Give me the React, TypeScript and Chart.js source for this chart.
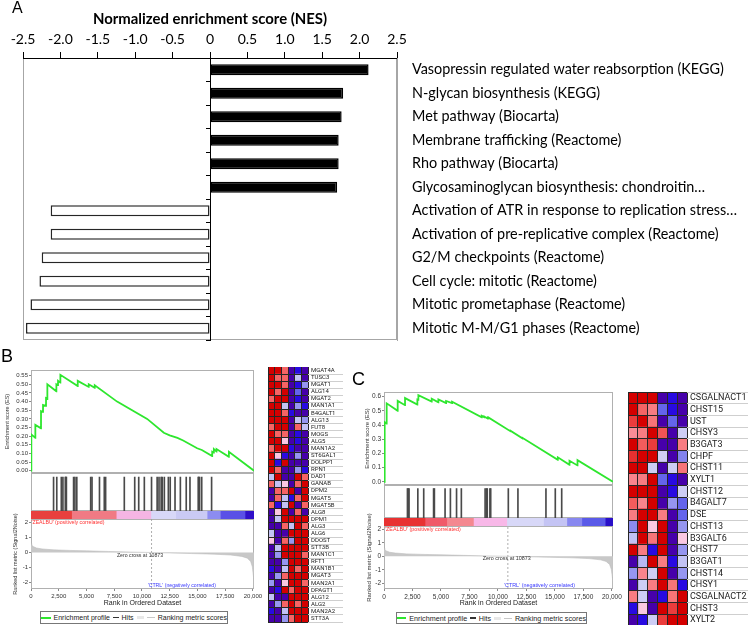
import React, { useEffect, useRef } from "react";
import { Chart, registerables } from "chart.js";

// ---------------- Panel A data ----------------
const pathways = [
  "Vasopressin regulated water reabsorption (KEGG)",
  "N-glycan biosynthesis (KEGG)",
  "Met pathway (Biocarta)",
  "Membrane trafficking (Reactome)",
  "Rho pathway (Biocarta)",
  "Glycosaminoglycan biosynthesis: chondroitin…",
  "Activation of ATR in response to replication stress…",
  "Activation of pre-replicative complex (Reactome)",
  "G2/M checkpoints (Reactome)",
  "Cell cycle: mitotic (Reactome)",
  "Mitotic prometaphase (Reactome)",
  "Mitotic M-M/G1 phases (Reactome)",
];
const nes = [2.12, 1.78, 1.76, 1.72, 1.72, 1.7, -2.13, -2.13, -2.25, -2.28, -2.4, -2.46];

// ---------------- GSEA data ----------------
const RANK_MAX = 20100;
const ZERO_CROSS = 10873;
const rankTicks = [0, 2500, 5000, 7500, 10000, 12500, 15000, 17500, 20000];
const metricTicks = [2, 1, 0, -1, -2];
const esTicksB = [0, 0.05, 0.1, 0.15, 0.2, 0.25, 0.3, 0.35, 0.4, 0.45, 0.5, 0.55];
const esTicksC = [0, 0.1, 0.2, 0.3, 0.4, 0.5, 0.6];

const esB: number[][] = [
  [0, 0], [30, 0], [31, 0.21], [391, 0.19], [392, 0.265], [902, 0.245], [903, 0.345],
  [1083, 0.34], [1084, 0.38], [1353, 0.375], [1354, 0.42], [1474, 0.415], [1475, 0.5],
  [2286, 0.46], [2287, 0.5], [2436, 0.495], [2437, 0.52], [2647, 0.51], [2648, 0.555],
  [4211, 0.49], [4212, 0.52], [5203, 0.485], [5204, 0.5], [5744, 0.48], [5745, 0.495],
  [7760, 0.4], [10470, 0.3], [11970, 0.22], [12500, 0.205], [13200, 0.19], [13714, 0.175],
  [14977, 0.13], [15398, 0.12], [16331, 0.085], [16332, 0.11], [16481, 0.105], [16482, 0.125],
  [16722, 0.11], [16723, 0.125], [17835, 0.08], [17836, 0.11], [20100, 0],
];
const esC: number[][] = [
  [0, 0], [59, 0], [60, 0.42], [234, 0.41], [235, 0.553], [1200, 0.5], [1201, 0.57],
  [1845, 0.54], [1846, 0.59], [2928, 0.545], [2929, 0.58], [3016, 0.578], [3017, 0.61],
  [4187, 0.565], [4188, 0.585], [4773, 0.56], [4774, 0.58], [5447, 0.555], [5448, 0.57],
  [5974, 0.555], [5975, 0.565], [8580, 0.455], [8581, 0.465], [8814, 0.455], [8815, 0.46],
  [9107, 0.445], [9108, 0.452], [9195, 0.448], [9196, 0.452], [11127, 0.355], [11128, 0.358],
  [12182, 0.305], [12183, 0.308], [15256, 0.155], [15257, 0.172], [16281, 0.12], [16282, 0.148],
  [16984, 0.115], [16985, 0.152], [20087, 0],
];
const hitsB = [30, 391, 902, 1083, 1353, 1413, 1474, 2286, 2436, 2647, 4211, 4361, 5203, 5744, 5895,
  8000, 9173, 9624, 10256, 11068, 11699, 11910, 12150, 12271, 12511, 12962, 13173, 13714, 14316,
  14977, 15398, 16331, 16391, 16481, 16722, 17835];
const hitsC = [60, 146, 235, 1200, 1845, 2928, 3016, 4187, 4773, 5447, 5974, 8580, 8726, 8814, 9107,
  9195, 11127, 12182, 15256, 16281, 16984];
const rankMetric: number[][] = [
  [0, 0.6], [60, 0.5], [200, 0.4], [500, 0.3], [1000, 0.24], [2000, 0.18], [3500, 0.14],
  [5000, 0.11], [7000, 0.07], [9000, 0.03], [10873, 0], [12500, -0.03], [14500, -0.07],
  [16500, -0.11], [18000, -0.17], [19000, -0.26], [19500, -0.38], [19800, -0.6],
  [19950, -0.95], [20050, -1.6], [20090, -2.35],
];
const barEdgesB = [0, 3660, 7680, 10800, 13040, 15870, 17060, 19290, 20100];
const barColorsB = ["#e8403e", "#f07a84", "#f5b5e3", "#d8d8f8", "#cacaf4", "#8c8cf0", "#5a50e6", "#3010c8"];
const barEdgesC = [0, 3600, 5505, 7850, 10775, 13996, 16047, 17364, 19414, 20100];
const barColorsC = ["#e83232", "#f05a6a", "#f48890", "#f8b8e8", "#d8d8f8", "#c4c4f4", "#8888f0", "#5a5ae8", "#2a10c8"];

// ---------------- Heatmap data ----------------
const genesB = ["MGAT4A", "TUSC3", "MGAT1", "ALG14", "MGAT2", "MAN1A1", "B4GALT1", "ALG13", "FUT8",
  "MOGS", "ALG5", "MAN1A2", "ST6GAL1", "DOLPP1", "RPN1", "DAD1", "GANAB", "DPM2", "MGAT5", "MGAT5B",
  "ALG8", "DPM1", "ALG3", "ALG6", "DDOST", "STT3B", "MAN1C1", "RFT1", "MAN1B1", "MGAT3", "MAN2A1",
  "DPAGT1", "ALG12", "ALG2", "MAN2A2", "STT3A"];
const heatB: number[][] = [
  [3, 3, 1.5, -3, -2.5, -3], [3, 1.5, 1.5, -3, -0.6, -3], [3, 3, 1.5, -3, -2.5, -1],
  [3, 1.5, 3, -3, -1.5, -3], [1.5, 3, 3, -3, -2.5, -3], [3, 3, -0.6, -3, -1, -2.5],
  [3, 3, 1.5, -2.5, -3, -3], [3, 3, 3, -3, -0.6, -1], [1.5, 3, 3, -3, 1.5, -0.6],
  [3, 1.5, 1.5, -3, -2.5, -3], [3, 3, 0.5, -3, -2.5, -3], [1.5, 3, 3, -2.5, -3, -3],
  [3, 0.5, -2.5, -3, -1, -3], [3, -2.5, 3, -3, -3, -3], [3, 1.5, -3, -3, -1, -2.5],
  [-0.6, 3, -3, -3, 3, 1.5], [1.5, -0.6, 0.5, -3, 1.5, 3], [-3, 1.5, 1.5, 3, -3, 3],
  [-3, 1.5, -0.6, -2.5, 1.5, 3], [1.5, -2.5, -0.6, 3, -3, 1.5], [-3, 0.5, 3, -3, 1.5, -3],
  [-3, -0.6, 3, 3, 3, 3], [-3, -3, 1.5, -0.6, 3, 1.5], [-0.6, -3, -3, 3, 3, 3],
  [0.5, -3, 1.5, -1, 3, 3], [-3, -0.6, 3, 3, 3, 3], [-3, -1, 3, 3, 3, 1.5],
  [-3, -3, -1, 3, 3, 3], [-2.5, -3, -0.6, 3, 1.5, 3], [-3, -1, 1.5, 3, 3, 3],
  [-1, -3, 0.5, 3, 3, 1.5], [-3, -2.5, 3, 1.5, 3, 3], [-0.6, -3, -3, 3, 3, 3],
  [-3, -1, 1.5, 3, 1.5, 3], [-2.5, -3, -0.6, 3, 3, 3], [-3, -3, -1, 1.5, 3, 3],
];
const genesC = ["CSGALNACT1", "CHST15", "UST", "CHSY3", "B3GAT3", "CHPF", "CHST11", "XYLT1", "CHST12",
  "B4GALT7", "DSE", "CHST13", "B3GALT6", "CHST7", "B3GAT1", "CHST14", "CHSY1", "CSGALNACT2", "CHST3", "XYLT2"];
const heatC: number[][] = [
  [3, 3, 3, -3, -2.5, -3], [3, 1.5, 1.2, -1.5, -2.5, -3], [2, 3, 1.3, -3, -1.5, -3],
  [1, 1.2, 3, 1.7, -3, -0.5], [3, 1.6, 2, -3, -3, 1.2], [2.2, 3, 3, -0.4, -3, -1.2],
  [3, 3, -0.5, -3, -0.5, 1.3], [1.1, 1.2, 3, -1.5, -2.5, -3], [3, 3, 3, -3, -2.5, -0.5],
  [1.6, 1.1, 3, -3, -1, -1.5], [1.2, 3, 3, 1.2, -3, -1.5], [-1.1, 3, 0.5, 3, -3, -1],
  [-0.6, 3, 1.3, 3, -3, 0.5], [3, 1.2, -2.5, 3, -3, -1], [-3, -0.7, 3, 1.2, -2.5, -0.6],
  [-1, 1.1, -0.5, 3, -3, -1], [-3, -0.5, 1.2, 3, 1.3, -2.5], [1.2, -0.5, -3, -2.5, 1.3, 3],
  [-2.5, 0.5, -3, 3, 2, 3], [-3, -2.5, -0.5, 2, 3, 3],
];
const heatStops = [-3, -2.5, -1.5, -1, -0.5, 0.5, 1, 1.5, 2, 3];
const heatRGB = [[70, 0, 170], [40, 10, 225], [100, 100, 235], [150, 150, 240], [205, 205, 245],
  [250, 200, 225], [250, 140, 150], [245, 100, 100], [235, 60, 60], [212, 0, 0]];

// ---------------- styling ----------------
const FONT_A = "Lato, 'Open Sans', sans-serif";
const FONT_G = "'Liberation Sans', Arial, sans-serif";
const FONT_H = "Roboto, 'Liberation Sans', sans-serif";
const GREEN = "#2ee62e";
const FRAME = "#b0b0b0";

function heatColor(v: number) {
  const x = Math.max(heatStops[0], Math.min(heatStops[heatStops.length - 1], v));
  let i = 0;
  while (i < heatStops.length - 2 && x > heatStops[i + 1]) i++;
  const t = (x - heatStops[i]) / (heatStops[i + 1] - heatStops[i]);
  const a = heatRGB[i], b = heatRGB[i + 1];
  const c = a.map((av, k) => Math.round(av + (b[k] - av) * t));
  return `rgb(${c[0]},${c[1]},${c[2]})`;
}

const framePlugin = {
  id: "frame",
  beforeDraw(chart: any, _a: any, opts: any) {
    if (!opts || (!opts.color && !opts.fill)) return;
    const { ctx, chartArea: a } = chart;
    ctx.save();
    if (opts.fill) {
      ctx.fillStyle = opts.fill;
      ctx.fillRect(a.left, a.top, a.right - a.left, a.bottom - a.top);
    }
    if (opts.color) {
      ctx.strokeStyle = opts.color;
      ctx.lineWidth = 1;
      ctx.strokeRect(Math.round(a.left) + 0.5, Math.round(a.top) + 0.5,
        Math.round(a.right - a.left) - 1, Math.round(a.bottom - a.top) - 1);
    }
    ctx.restore();
  },
};
Chart.register(...registerables, framePlugin);

const toXY = (arr: number[][]) => arr.map(([x, y]) => ({ x, y }));
const noPlug = { legend: { display: false }, tooltip: { enabled: false } };
const zeroPad = (s: any) => { s.paddingTop = 0; s.paddingBottom = 0; s.paddingLeft = 0; s.paddingRight = 0; };
const fitW = (w: number) => (s: any) => { s.width = w; zeroPad(s); };
const fitH = (h: number) => (s: any) => { s.height = h; zeroPad(s); };

// ---------------- Panel A ----------------
function makeA(): any {
  return {
    type: "bar",
    data: {
      labels: pathways,
      datasets: [{
        data: nes,
        xAxisID: "x",
        yAxisID: "y",
        backgroundColor: nes.map((v) => (v > 0 ? "#000" : "#fff")),
        borderColor: nes.map((v) => (v > 0 ? "#000" : "#262626")),
        borderWidth: 1.5,
        borderSkipped: false,
        barPercentage: 0.47,
        categoryPercentage: 1,
      }],
    },
    options: {
      indexAxis: "y",
      animation: false,
      responsive: false,
      events: [],
      layout: { padding: { left: 23, top: 6, right: 0, bottom: 5 } },
      plugins: { ...noPlug, frame: { color: "#a6a6a6" } },
      scales: {
        x: {
          type: "linear", position: "top", min: -2.5, max: 2.5,
          ticks: { stepSize: 0.5, font: { family: FONT_A, size: 14 }, color: "#000", padding: 4 },
          grid: { drawOnChartArea: false, drawTicks: true, tickLength: 6, color: "#000" },
          border: { color: "#000" },
          title: {
            display: true, text: "Normalized enrichment score (NES)",
            font: { family: FONT_A, size: 14.9, weight: "bold" }, color: "#000",
            padding: { top: 4, bottom: 0 },
          },
          afterFit: fitH(52),
        },
        y: {
          type: "category", position: "right", offset: true,
          grid: { display: false, drawTicks: false },
          border: { color: "#a6a6a6" },
          ticks: { font: { family: FONT_A, size: 14.4 }, color: "#000", padding: 15, crossAlign: "near", autoSkip: false },
          afterFit: fitW(353),
        },
        yz: {
          type: "category", position: { x: 0 }, offset: true,
          ticks: { display: false },
          grid: { offset: true, drawOnChartArea: false, tickLength: 4, color: "#000" },
          border: { color: "#000" },
          afterFit: zeroPad,
        },
      },
    },
  };
}

// ---------------- GSEA builders ----------------
function esConfig(p: any): any {
  return {
    type: "line",
    data: { datasets: [{ data: toXY(p.es), borderColor: GREEN, borderWidth: 1.8, pointRadius: 0, tension: 0, fill: false }] },
    options: {
      animation: false, responsive: false, events: [],
      layout: { padding: { top: p.esPadTop, right: p.padRight, bottom: 0, left: 0 } },
      plugins: { ...noPlug, frame: { color: FRAME, fill: "#fff" } },
      scales: {
        x: { type: "linear", min: 0, max: RANK_MAX, display: false },
        y: {
          type: "linear", min: p.esMin, max: p.esMax,
          afterBuildTicks: (s: any) => { s.ticks = p.esTicks.map((v: number) => ({ value: v })); },
          ticks: { callback: (v: any) => Number(v).toFixed(p.esDec), font: { family: FONT_G, size: p.tickSize }, color: "#333", padding: 1, autoSkip: false },
          grid: { drawOnChartArea: false, tickLength: 2, color: "#888" },
          border: { display: false },
          title: { display: true, text: "Enrichment score (ES)", font: { family: FONT_G, size: p.yTitleSize }, color: "#333", padding: { top: p.esTitlePad, bottom: 0 } },
          afterFit: fitW(p.axisW),
        },
      },
    },
  };
}

function hitsConfig(p: any): any {
  return {
    type: "bar",
    data: { datasets: [{ data: p.hits.map((r: number) => ({ x: r, y: 1 })), backgroundColor: "#4a4a4a", barThickness: 1, borderWidth: 0 }] },
    options: {
      animation: false, responsive: false, events: [],
      layout: { padding: { top: 0, right: p.padRight, bottom: 0, left: p.axisW } },
      plugins: { ...noPlug, frame: { color: FRAME, fill: "#fff" } },
      scales: {
        x: { type: "linear", min: 0, max: RANK_MAX, display: false },
        y: { type: "linear", min: 0, max: 1.12, display: false },
      },
    },
  };
}

function barConfig(p: any): any {
  return {
    type: "bar",
    data: {
      labels: [""],
      datasets: p.barColors.map((c: string, i: number) => ({
        data: [[p.barEdges[i], p.barEdges[i + 1]]],
        backgroundColor: c, borderWidth: 0, barPercentage: 1, categoryPercentage: 1, grouped: false,
      })),
    },
    options: {
      indexAxis: "y", animation: false, responsive: false, events: [],
      layout: { padding: { top: 0, right: p.padRight, bottom: 0, left: p.axisW } },
      plugins: { ...noPlug },
      scales: {
        x: { type: "linear", min: 0, max: RANK_MAX, display: false },
        y: { type: "category", display: false },
      },
    },
  };
}

function rankConfig(p: any): any {
  return {
    type: "line",
    data: {
      datasets: [
        { data: toXY(rankMetric), borderColor: "#bdbdbd", borderWidth: 0.6, backgroundColor: "#c8c8c8", fill: "origin", pointRadius: 0, tension: 0 },
        { data: [{ x: ZERO_CROSS, y: p.rkMin }, { x: ZERO_CROSS, y: p.rkMax }], borderColor: "#9a9a9a", borderWidth: 0.8, borderDash: [2, 2], pointRadius: 0, fill: false },
      ],
    },
    options: {
      animation: false, responsive: false, events: [],
      layout: { padding: { top: p.rkPadTop, right: p.padRight, bottom: 0, left: 0 } },
      plugins: { ...noPlug, frame: { color: FRAME, fill: "#fff" } },
      scales: {
        x: {
          type: "linear", min: 0, max: RANK_MAX, position: "bottom",
          afterBuildTicks: (s: any) => { s.ticks = rankTicks.map((v) => ({ value: v })); },
          ticks: { callback: (v: any) => Number(v).toLocaleString("en-US"), font: { family: FONT_G, size: p.tickSize }, color: "#333", padding: 2, maxRotation: 0, autoSkip: false },
          grid: { drawOnChartArea: false, tickLength: 2, color: "#888" },
          border: { display: false },
          title: { display: true, text: "Rank in Ordered Dataset", font: { family: FONT_G, size: p.xTitleSize }, color: "#222", padding: { top: 0, bottom: p.xTitlePad } },
          afterFit: fitH(36),
        },
        y: {
          type: "linear", min: p.rkMin, max: p.rkMax,
          afterBuildTicks: (s: any) => { s.ticks = metricTicks.map((v) => ({ value: v })); },
          ticks: { font: { family: FONT_G, size: p.tickSize }, color: "#333", padding: 1, autoSkip: false },
          grid: { drawOnChartArea: false, tickLength: 2, color: "#888" },
          border: { display: false },
          title: { display: true, text: "Ranked list metric (Signal2Noise)", font: { family: FONT_G, size: p.yTitleSize }, color: "#333", padding: { top: p.rkTitlePad, bottom: 0 } },
          afterFit: fitW(p.axisW),
        },
      },
    },
  };
}

function heatConfig(genes: string[], heat: number[][], fontSize: number, labelW: number, padBottom: number): any {
  const cols = heat[0].length;
  const datasets = [];
  for (let c = 0; c < cols; c++) {
    datasets.push({
      data: genes.map(() => 1),
      backgroundColor: heat.map((r) => heatColor(r[c])),
      borderWidth: 0, barPercentage: 1, categoryPercentage: 1,
    });
  }
  return {
    type: "bar",
    data: { labels: genes, datasets },
    options: {
      indexAxis: "y", animation: false, responsive: false, events: [],
      layout: { padding: { top: 0, right: 0, bottom: padBottom, left: 0 } },
      plugins: { ...noPlug },
      scales: {
        x: {
          type: "linear", stacked: true, min: 0, max: cols, position: "bottom",
          ticks: { display: false, stepSize: 1 },
          grid: { color: "#262626", z: 1, drawTicks: false },
          border: { display: false },
          afterFit: fitH(0),
        },
        y: {
          type: "category", stacked: true, position: "right", offset: true,
          ticks: { font: { family: FONT_H, size: fontSize }, color: "#222", padding: -(labelW - 3), crossAlign: "near", autoSkip: false },
          grid: { offset: true, color: "#262626", tickColor: "#cfcfcf", tickLength: labelW, z: 1 },
          border: { display: false },
          afterFit: fitW(labelW),
        },
      },
    },
  };
}

// ---------------- layout params ----------------
const pB = {
  x: 0, w: 267, axisW: 31, padRight: 13, es: esB, esMin: -0.0133, esMax: 0.583, esTicks: esTicksB, esDec: 2,
  esTop: 360, esH: 113, esPadTop: 10, esTitlePad: 4.2, hits: hitsB, hitsTop: 473, hitsH: 38,
  barTop: 511, barH: 8, barEdges: barEdgesB, barColors: barColorsB, rkTop: 495, rkH: 130, rkPadTop: 24,
  rkMin: -2.45, rkMax: 2.25, rkTitlePad: 11.7, tickSize: 6, yTitleSize: 5.5, xTitleSize: 7, xTitlePad: 17.5,
};
const pC = {
  x: 355, w: 270, axisW: 29, padRight: 12, es: esC, esMin: -0.023, esMax: 0.633, esTicks: esTicksC, esDec: 1,
  esTop: 380, esH: 105, esPadTop: 12, esTitlePad: 8.4, hits: hitsC, hitsTop: 485, hitsH: 33,
  barTop: 518, barH: 8, barEdges: barEdgesC, barColors: barColorsC, rkTop: 495, rkH: 130, rkPadTop: 31,
  rkMin: -2.42, rkMax: 2.244, rkTitlePad: 11, tickSize: 6.5, yTitleSize: 6, xTitleSize: 7, xTitlePad: 17.5,
};

function ChartBox({ x, y, w, h, make }: any) {
  const ref = useRef<HTMLCanvasElement>(null);
  useEffect(() => {
    const chart = new Chart(ref.current as HTMLCanvasElement, make());
    return () => chart.destroy();
  }, []);
  return <canvas ref={ref} width={w} height={h} style={{ position: "absolute", left: x, top: y, width: w, height: h }} />;
}

function T({ x, y, size, color = "#000", font = FONT_G, align = "left", children }: any) {
  const lh = Math.round(size * 1.25);
  const tx = align === "center" ? "translateX(-50%)" : "none";
  return (
    <div style={{ position: "absolute", left: x, top: y - lh / 2, fontSize: size, lineHeight: lh + "px", fontFamily: font, color, whiteSpace: "nowrap", transform: tx }}>
      {children}
    </div>
  );
}

function Legend({ x, y, w, h, size }: any) {
  const line = (wd: number, ht: number, bg: string) => (
    <span style={{ display: "inline-block", width: wd, height: ht, background: bg }} />
  );
  return (
    <div style={{ position: "absolute", left: x, top: y, width: w, height: h, boxSizing: "border-box", border: "1px solid #777", background: "#fff", display: "flex", alignItems: "center", justifyContent: "center", gap: 3, fontFamily: FONT_G, fontSize: size, color: "#222", whiteSpace: "nowrap" }}>
      {line(12, 2, GREEN)}<span>Enrichment profile</span>
      {line(7, 1.5, "#333")}<span>Hits</span>
      {line(9, 3, "#e8e8e8")}{line(10, 1, "#c8c8c8")}<span>Ranking metric scores</span>
    </div>
  );
}

function Gsea({ p }: any) {
  return (
    <>
      <ChartBox x={p.x} y={p.esTop} w={p.w} h={p.esH} make={() => esConfig(p)} />
      <ChartBox x={p.x} y={p.hitsTop} w={p.w} h={p.hitsH} make={() => hitsConfig(p)} />
      <ChartBox x={p.x} y={p.barTop} w={p.w} h={p.barH} make={() => barConfig(p)} />
      <ChartBox x={p.x} y={p.rkTop} w={p.w} h={p.rkH} make={() => rankConfig(p)} />
    </>
  );
}

export default function App() {
  return (
    <div style={{ position: "absolute", left: 0, top: 0, width: 750, height: 625, overflow: "hidden", background: "#fff" }}>
      <ChartBox x={0} y={0} w={750} h={345} make={makeA} />
      <Gsea p={pB} />
      <Gsea p={pC} />
      <ChartBox x={268} y={367} w={75} h={258} make={() => heatConfig(genesB, heatB, 6, 35, 3)} />
      <ChartBox x={628} y={392} w={120} h={234} make={() => heatConfig(genesC, heatC, 9, 61, 0)} />

      <T x={12} y={7.5} size={16}>A</T>
      <T x={1} y={356.5} size={18}>B</T>
      <T x={352} y={379} size={18}>C</T>

      <T x={31.5} y={522.7} size={5.2} color="#ff3030">'ZEALBU' (positively correlated)</T>
      <T x={140} y={555} size={5.2} color="#333" align="center">Zero cross at 10873</T>
      <T x={147.7} y={585} size={5.2} color="#3a3aff">'CTRL' (negatively correlated)</T>

      <T x={385} y={529} size={5.4} color="#ff3030">'ZEALBU' (positively correlated)</T>
      <T x={506.7} y={558.3} size={5.4} color="#333" align="center">Zero cross at 10873</T>
      <T x={504} y={585} size={5.4} color="#3a3aff">'CTRL' (negatively correlated)</T>

      <Legend x={40} y={611} w={188} h={13} size={7} />
      <Legend x={396} y={612} w={191} h={12} size={7.2} />
    </div>
  );
}
